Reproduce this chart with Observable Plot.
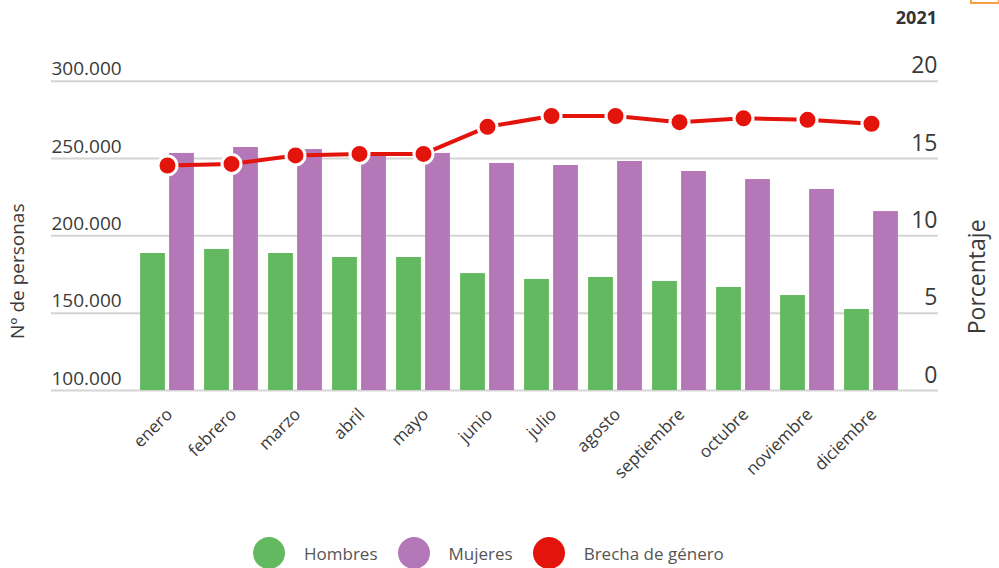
<!DOCTYPE html>
<html>
<head>
<meta charset="utf-8">
<script src="https://cdn.jsdelivr.net/npm/d3@7"></script>
<script src="https://cdn.jsdelivr.net/npm/@observablehq/plot@0.6"></script>
<style>
  html, body { margin: 0; padding: 0; background: #fff; }
  #wrap { position: relative; width: 999px; height: 568px; overflow: hidden; font-family: "Open Sans", sans-serif; }
  #year { position: absolute; top: 5px; left: 880px; width: 57px; text-align: right; font-weight: bold; font-size: 18px; color: #333; }
  #btn { position: absolute; top: -4px; left: 970px; width: 26px; height: 4px; border: 2px solid #f6a244; background: #fff; }
  #chart { position: absolute; top: 30px; left: 0; }
  #legend { position: absolute; top: 537px; left: 253px; display: flex; align-items: center; font-family: "Open Sans", sans-serif; font-size: 17px; color: #555; }
  #legend .sw { width: 32px; height: 32px; border-radius: 50%; flex: none; }
  #legend .lab { margin-left: 19px; margin-right: 20px; white-space: nowrap; }
</style>
</head>
<body>
<div id="wrap">
  <div id="year">2021</div>
  <div id="btn"></div>
  <div id="chart"></div>
  <div id="legend"></div>
</div>
<script>
const months = ["enero","febrero","marzo","abril","mayo","junio","julio","agosto","septiembre","octubre","noviembre","diciembre"];
const hombres = [188600,191200,188600,186000,186000,175600,171800,173100,170500,166600,161400,152400];
const mujeres = [253300,257100,255800,253000,253300,246800,245500,248100,241600,236400,230000,215700];
const brecha = [14.55,14.65,15.2,15.3,15.3,17.05,17.75,17.75,17.35,17.6,17.5,17.25];
const leftTicks = [100000,150000,200000,250000,300000];
const rightTicks = [0,5,10,15,20];
const seriesNames = ["Hombres","Mujeres","Brecha de género"];
const seriesColors = ["#63b95f","#b477b7","#e3140b"];

const data = months.map((m, i) => ({month: m, hombres: hombres[i], mujeres: mujeres[i], brecha: brecha[i]}));
const pctToY = p => 100000 + p * 10000;
const fmt = d3.formatLocale({thousands: ".", decimal: ",", grouping: [3], currency: ["", ""]}).format(",");

const chart = Plot.plot({
  width: 999,
  height: 500,
  marginTop: 50.7,
  marginBottom: 140,
  marginLeft: 51,
  marginRight: 61,
  style: {fontFamily: "Open Sans, sans-serif", background: "white", overflow: "visible"},
  x: {type: "band", domain: months, padding: 0, insetLeft: 82.9, insetRight: 33.9, axis: null},
  y: {domain: [100000, 300000], axis: null},
  marks: [
    Plot.ruleY(leftTicks, {y: d => d, stroke: "#d4d4d4", strokeWidth: 2}),
    Plot.barY(data, {x: "month", y1: 100000, y2: "hombres", fill: seriesColors[0], insetLeft: 5.1, insetRight: 34.1}),
    Plot.barY(data, {x: "month", y1: 100000, y2: "mujeres", fill: seriesColors[1], insetLeft: 34.1, insetRight: 5.1}),
    Plot.line(data, {x: "month", y: d => pctToY(d.brecha), stroke: seriesColors[2], strokeWidth: 4}),
    Plot.dot(data, {x: "month", y: d => pctToY(d.brecha), r: 9.5, fill: seriesColors[2], stroke: "white", strokeWidth: 3}),
    Plot.text(leftTicks, {y: d => d, text: d => fmt(d), frameAnchor: "left", textAnchor: "start", lineAnchor: "bottom", dy: -6, fontSize: 19, fill: "#3a3a3a"}),
    Plot.text(rightTicks, {y: d => pctToY(d), text: d => String(d), frameAnchor: "right", textAnchor: "end", lineAnchor: "bottom", dy: -8, dx: -1, fontSize: 23, fill: "#3a3a3a"}),
    Plot.text(months, {x: d => d, text: d => d, frameAnchor: "bottom", rotate: -45, textAnchor: "end", lineAnchor: "bottom", dx: 6, dy: 25, fontSize: 17, fill: "#3a3a3a"}),
    Plot.text(["Nº de personas"], {text: d => d, frameAnchor: "left", textAnchor: "middle", lineAnchor: "middle", rotate: -90, dx: -34, dy: 35.4, fontSize: 19, fill: "#3a3a3a"}),
    Plot.text(["Porcentaje"], {text: d => d, frameAnchor: "right", textAnchor: "middle", lineAnchor: "middle", rotate: -90, dx: 38.7, dy: 41, fontSize: 23, fill: "#3a3a3a"})
  ]
});
document.getElementById("chart").appendChild(chart);

const legend = document.getElementById("legend");
seriesNames.forEach((name, i) => {
  const sw = document.createElement("span");
  sw.className = "sw";
  sw.style.background = seriesColors[i];
  const lab = document.createElement("span");
  lab.className = "lab";
  lab.textContent = name;
  legend.appendChild(sw);
  legend.appendChild(lab);
});
</script>
</body>
</html>
